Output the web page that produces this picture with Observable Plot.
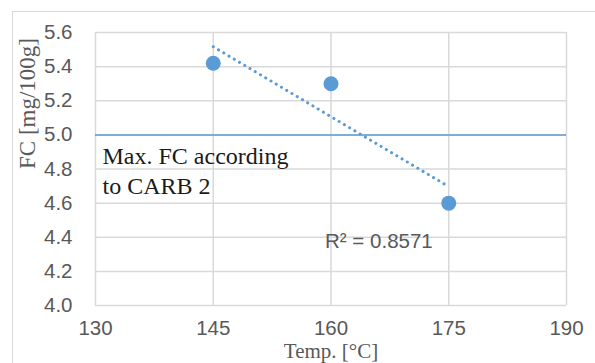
<!DOCTYPE html>
<html>
<head>
<meta charset="utf-8">
<script src="https://cdn.jsdelivr.net/npm/d3@7"></script>
<script src="https://cdn.jsdelivr.net/npm/@observablehq/plot@0.6"></script>
<style>
  html, body { margin: 0; padding: 0; background: #ffffff; }
  #wrap { position: relative; width: 595px; height: 363px; overflow: hidden; background: #ffffff; }
  #frame { position: absolute; left: 12px; top: 11px; right: -5px; bottom: -5px;
           border-top: 1.5px solid #d9d9d9; border-left: 1.5px solid #d9d9d9; }
  #chart { position: absolute; left: 0; top: 0; }
</style>
</head>
<body>
<div id="wrap"><div id="frame"></div><div id="chart"></div></div>
<script>
// ---- data ----
const temps = [145, 160, 175];
const fcValues = [5.42, 5.30, 4.60];
const xTicks = [130, 145, 160, 175, 190];
const yTicks = [4.0, 4.2, 4.4, 4.6, 4.8, 5.0, 5.2, 5.4, 5.6];
const limitFC = [5.0];
const limitLabel = "Max. FC according\nto CARB 2";
const limitLabelPos = [130, 4.8];
const r2Label = "R² = 0.8571";
const r2LabelPos = [166.1, 4.375];
const xTitle = "Temp. [°C]";
const yTitle = "FC [mg/100g]";

const points = temps.map((t, i) => ({temp: t, fc: fcValues[i]}));

const blue = "#5b9bd5";
const grid = "#d9d9d9";
const gray = "#595959";
const sans = "'Liberation Sans', Arial, sans-serif";
const serif = "'Liberation Serif', 'Times New Roman', serif";

const chart = Plot.plot({
  width: 595,
  height: 363,
  marginLeft: 95,
  marginRight: 29,
  marginTop: 32,
  marginBottom: 58,
  style: {background: "none", fontFamily: sans, fontSize: "20px", color: gray},
  x: {domain: [130, 190], ticks: xTicks},
  y: {domain: [4.0, 5.6], ticks: yTicks},
  marks: [
    Plot.gridX(xTicks, {stroke: grid, strokeOpacity: 1, strokeWidth: 1.5}),
    Plot.gridY(yTicks, {stroke: grid, strokeOpacity: 1, strokeWidth: 1.5}),
    Plot.axisX({ticks: xTicks, tickSize: 0, tickPadding: 15, label: null, fontSize: 20.5, fill: gray,
                tickFormat: d => d3.format("d")(d)}),
    Plot.axisY({ticks: yTicks, tickSize: 0, tickPadding: 23, label: null, fontSize: 20.5, fill: gray,
                tickFormat: d => d3.format(".1f")(d)}),
    Plot.ruleY(limitFC, {stroke: blue, strokeWidth: 1.5}),
    Plot.linearRegressionY(points, {x: "temp", y: "fc", ci: 0, stroke: blue, strokeWidth: 3,
                strokeDasharray: "0.1,6", strokeLinecap: "round"}),
    Plot.dot(points, {x: "temp", y: "fc", r: 7.5, fill: blue, stroke: "none"}),
    Plot.text([limitLabel], {x: limitLabelPos[0], y: limitLabelPos[1], dx: 7, textAnchor: "start",
                fontFamily: serif, fontSize: 24, fill: "#1a1a1a", lineHeight: 1.27}),
    Plot.text([r2Label], {x: r2LabelPos[0], y: r2LabelPos[1], fontFamily: sans, fontSize: 20.5, fill: gray}),
    Plot.text([xTitle], {frameAnchor: "bottom", lineAnchor: "middle", dy: 46, fontFamily: serif, fontSize: 21, fill: gray}),
    Plot.text([yTitle], {frameAnchor: "left", lineAnchor: "middle", dx: -68, rotate: -90, fontFamily: serif, fontSize: 23, fill: gray})
  ]
});
document.getElementById("chart").appendChild(chart);
</script>
</body>
</html>
